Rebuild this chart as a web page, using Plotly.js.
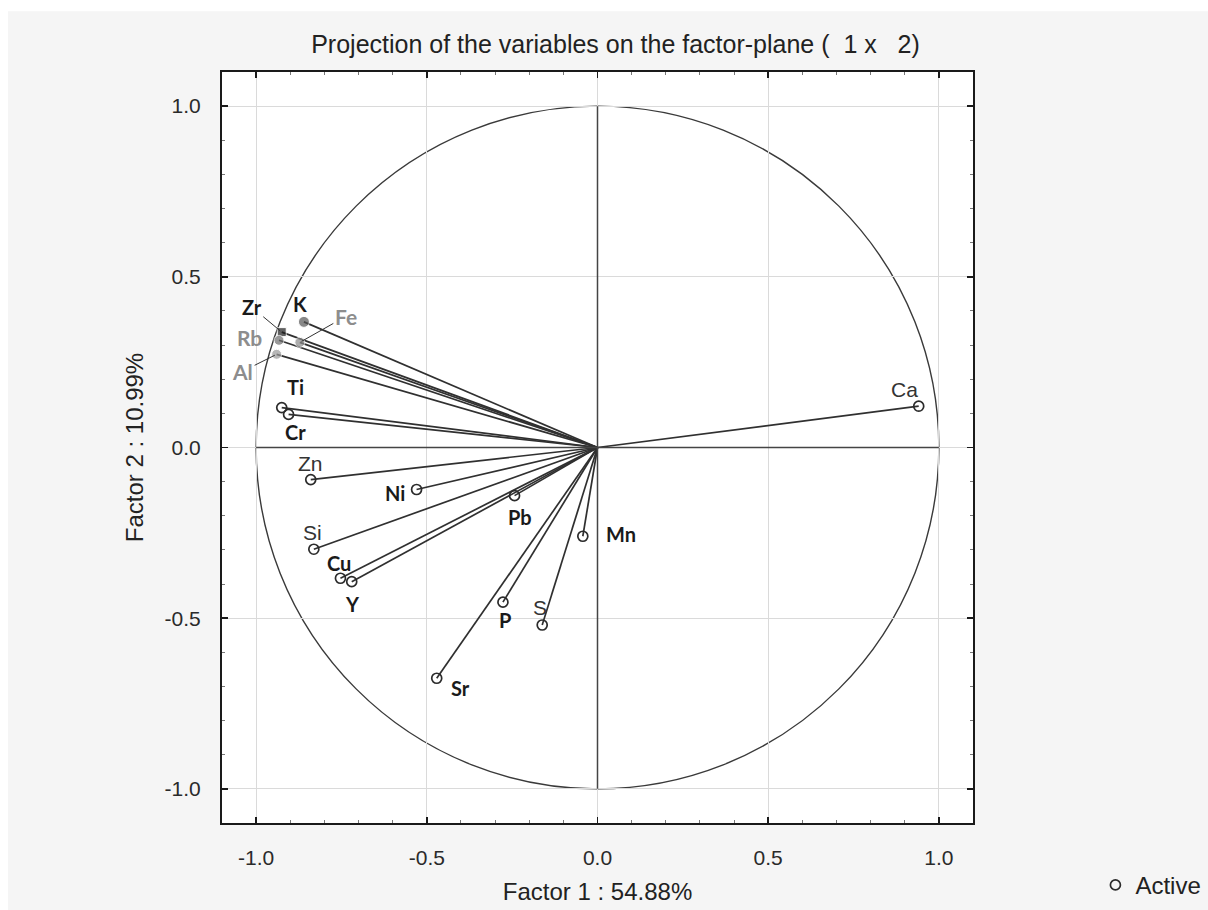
<!DOCTYPE html>
<html>
<head>
<meta charset="utf-8">
<script src="https://cdn.plot.ly/plotly-3.0.1.min.js"></script>
<style>html,body{margin:0;padding:0;background:#fff;}#chart{width:1208px;height:910px;}</style>
</head>
<body>
<div id="chart"></div>
<script>
// ---- data (factor loadings) ----
const variables = ['Ca','Zr','K','Fe','Rb','Al','Ti','Cr','Zn','Ni','Pb','Mn','Si','Cu','Y','P','S','Sr'];
const factor1 = [0.941,-0.925,-0.860,-0.872,-0.933,-0.940,-0.925,-0.905,-0.840,-0.530,-0.243,-0.043,-0.831,-0.753,-0.720,-0.277,-0.162,-0.471];
const factor2 = [0.121,0.338,0.368,0.308,0.314,0.273,0.117,0.097,-0.094,-0.123,-0.141,-0.260,-0.298,-0.383,-0.393,-0.453,-0.520,-0.676];
const tickValues = [-1.0,-0.5,0.0,0.5,1.0];
const tickLabels = ['-1.0','-0.5','0.0','0.5','1.0'];
const chartTitle = 'Projection of the variables on the factor-plane (  1 x   2)';
const xTitle = 'Factor 1 : 54.88%';
const yTitle = 'Factor 2 : 10.99%';
const legendName = 'Active';

// ---- styles (kept separate from data) ----
const statFont = 'Liberation Sans, Arial, sans-serif';
const boldFont = 'Lato, Open Sans, sans-serif';
const grey = '#8d8d8d';
const filledStyle = {
  Zr: {color:'#1e1e1e', symbol:'square', size:9},
  K:  {color:'#555555', symbol:'circle', size:11},
  Fe: {color:'#8a8a8a', symbol:'circle', size:10},
  Rb: {color:'#6f6f6f', symbol:'circle', size:10},
  Al: {color:'#9a9a9a', symbol:'circle', size:10}
};
// label styling: [dx, dy (px, screen), kind, leader]
const labelStyle = {
  Ca:[-14,-17,'reg'], Zn:[0,-16,'reg'], Si:[-1,-17,'reg'], S:[-2,-18,'reg'],
  Zr:[-30,-25,'bold','lead'], K:[-4,-18,'bold'], Fe:[46,-26,'grey','lead'],
  Rb:[-30,-3,'grey'], Al:[-34,17,'grey','lead'], Ti:[14,-21,'bold'], Cr:[7,18,'bold'],
  Ni:[-22,4,'bold'], Pb:[5,21,'bold'], Mn:[38,-2,'bold'], Cu:[-1,-15,'bold'],
  Y:[1,22,'bold'], P:[2,18,'bold'], Sr:[24,10,'bold']
};

// ---- traces ----
const lx = [], ly = [];
variables.forEach((v,i)=>{ lx.push(0, factor1[i], null); ly.push(0, factor2[i], null); });
const vectors = {x:lx, y:ly, mode:'lines', type:'scatter', line:{color:'#303030', width:1.7},
  hoverinfo:'skip', showlegend:false};

const openIdx = variables.map((v,i)=>i).filter(i=>!filledStyle[variables[i]]);
const filledIdx = variables.map((v,i)=>i).filter(i=>filledStyle[variables[i]]);

const openPts = {x:openIdx.map(i=>factor1[i]), y:openIdx.map(i=>factor2[i]),
  text:openIdx.map(i=>variables[i]), mode:'markers', type:'scatter', name:legendName,
  marker:{symbol:'circle-open', size:10, color:'#2b2b2b', line:{width:1.7}}, showlegend:true};
const filledPts = {x:filledIdx.map(i=>factor1[i]), y:filledIdx.map(i=>factor2[i]),
  text:filledIdx.map(i=>variables[i]), mode:'markers', type:'scatter', showlegend:false,
  marker:{symbol:filledIdx.map(i=>filledStyle[variables[i]].symbol),
          size:filledIdx.map(i=>filledStyle[variables[i]].size),
          color:filledIdx.map(i=>filledStyle[variables[i]].color)}};

// ---- labels ----
const annotations = variables.map((v,i)=>{
  const s = labelStyle[v];
  const font = s[2]==='reg' ? {family:statFont, size:21, color:'#333'}
             : s[2]==='grey' ? {family:boldFont, size:21, color:grey, weight:'bold'}
             : {family:boldFont, size:20, color:'#1a1a1a', weight:'bold'};
  const a = {x:factor1[i], y:factor2[i], xref:'x', yref:'y', text: s[2]==='reg'?v:'<b>'+v+'</b>', font:font};
  if (s[3]==='lead') {
    Object.assign(a, {showarrow:true, arrowhead:0, arrowwidth:1, arrowcolor:'#333', ax:s[0], ay:s[1], standoff:2});
  } else {
    Object.assign(a, {showarrow:false, xshift:s[0], yshift:-s[1]});
  }
  return a;
});

const axisCommon = {
  range:[-1.1,1.1], tickvals:tickValues, ticktext:tickLabels, showgrid:true, gridcolor:'#dadada', gridwidth:1,
  zeroline:false, showline:true, linecolor:'#1a1a1a', linewidth:2, mirror:'allticks',
  ticks:'inside', ticklen:6, tickwidth:1.5, tickcolor:'#1a1a1a',
  minor:{dtick:0.1, ticks:'inside', ticklen:3, tickwidth:1, tickcolor:'#777', showgrid:false},
  tickfont:{family:statFont, size:21, color:'#2a2a2a'},
  ticklabelstandoff:15, automargin:false, fixedrange:true
};

const layout = {
  width:1208, height:910,
  margin:{l:222, r:235, t:72, b:87, autoexpand:false},
  paper_bgcolor:'#ffffff', plot_bgcolor:'#ffffff',
  title:{text:chartTitle, font:{family:statFont, size:25, color:'#222'}, xref:'paper', x:0.524, xanchor:'center', yref:'container', y:0.951, yanchor:'middle'},
  xaxis:Object.assign({}, axisCommon, {title:{text:xTitle, font:{family:statFont, size:24, color:'#222'}, standoff:15}}),
  yaxis:Object.assign({}, axisCommon, {title:{text:yTitle, font:{family:statFont, size:24, color:'#222'}, standoff:14}}),
  showlegend:true,
  legend:{x:1.163, y:-0.083, xanchor:'left', yanchor:'middle', bgcolor:'rgba(0,0,0,0)',
    font:{family:statFont, size:24, color:'#222'}},
  shapes:[
    {type:'rect', xref:'paper', yref:'paper', x0:-0.285, x1:1.4, y0:-0.2, y1:1.081, fillcolor:'#f5f5f5', line:{width:0}, layer:'below'},
    {type:'rect', xref:'paper', yref:'paper', x0:0, x1:1, y0:0, y1:1, fillcolor:'#ffffff', line:{width:0}, layer:'below'},
    {type:'circle', xref:'x', yref:'y', x0:-1, y0:-1, x1:1, y1:1, line:{color:'#3a3a3a', width:1.4}, layer:'below'},
    {type:'line', xref:'x', yref:'y', x0:-1, y0:0, x1:1, y1:0, line:{color:'#444', width:1.5}, layer:'above'},
    {type:'line', xref:'x', yref:'y', x0:0, y0:-1, x1:0, y1:1, line:{color:'#444', width:1.5}, layer:'above'}
  ],
  annotations:annotations
};

Plotly.newPlot('chart', [vectors, openPts, filledPts], layout, {displayModeBar:false, staticPlot:true});
</script>
</body>
</html>
